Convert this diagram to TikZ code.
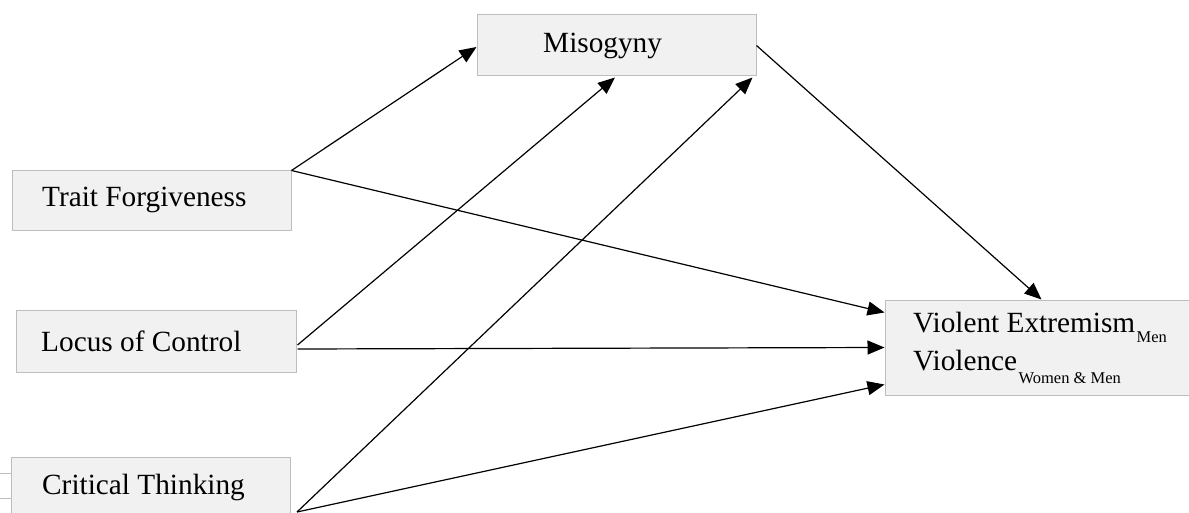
\documentclass[tikz,border=0pt]{standalone}
\usepackage{fontspec}
\setmainfont{Liberation Serif}
\usetikzlibrary{arrows.meta,calc}
\definecolor{boxfill}{HTML}{F1F1F1}
\definecolor{boxline}{HTML}{BDBDBD}
\begin{document}
\begin{tikzpicture}[x=1pt,y=-1pt,
  box/.style={draw=boxline,fill=boxfill,line width=1pt,rectangle,inner sep=0pt},
  lbl/.style={anchor=base west,inner sep=0pt,font=\fontsize{29.3}{33}\selectfont},
  sub/.style={anchor=base west,inner sep=0pt,font=\fontsize{16.5}{18}\selectfont},
  path/.style={line width=1.2pt,-{Triangle[length=17pt,width=14pt]}}]
\useasboundingbox (0,0) rectangle (1189,513);

% variable boxes
\node[box,minimum width=279pt,minimum height=61pt] (mis) at (616.5,45.5) {};
\node[box,minimum width=279pt,minimum height=60pt] (tf) at (151.5,201) {};
\node[box,minimum width=280pt,minimum height=62pt] (lc) at (156,341) {};
\node[box,minimum width=279pt,minimum height=80pt] (ct) at (150.5,497) {};
\node[box,minimum width=340pt,minimum height=95pt] (out) at (1055,347.5) {};

% small marks left of the last box
\draw[boxline,line width=0.8pt] (0,473) -- (ct.west |- 0,473);
\draw[boxline,line width=0.8pt] (0,498) -- (ct.west |- 0,498);

% labels
\node[lbl] (tmis) at (543,53) {Misogyny};
\node[lbl] (ttf) at (42,207) {Trait Forgiveness};
\node[lbl] (tlc) at (41,351) {Locus of Control};
\node[lbl] (tct) at (42,494) {Critical Thinking};
\node[lbl] (tve) at (913,332) {Violent Extremism};
\node[sub] (tmen) at (tve.base east) [xshift=1pt,yshift=-10pt] {Men};
\node[lbl] (tv) at (913,370) {Violence};
\node[sub] (twm) at (tv.base east) [xshift=1pt,yshift=-13pt] {Women \& Men};

% connector end points
\coordinate (lcA) at ($(lc.east)+(1,4)$);
\coordinate (lcB) at ($(lc.east)+(1,8)$);
\coordinate (ctA) at (297,512);
\coordinate (misB) at ($(mis.south east)+(-4,1)$);
\coordinate (misA) at ($(mis.south)+(-1.5,1)$);
\coordinate (outT) at ($(out.north west)+(157,0)$);
\coordinate (out1) at ($(out.north west)+(0,13)$);
\coordinate (out2) at ($(out.north west)+(0,48)$);
\coordinate (out3) at ($(out.north west)+(0,85)$);

% paths
\draw[path] (tf.north east) -- ($(mis.west)+(0,1.5)$);
\draw[path] (tf.north east) -- (out1);
\draw[path] (lcA) -- (misA);
\draw[path] (lcB) -- (out2);
\draw[path] (ctA) -- (misB);
\draw[path] (ctA) -- (out3);
\draw[path] (mis.east) -- (outT);
\end{tikzpicture}
\end{document}
